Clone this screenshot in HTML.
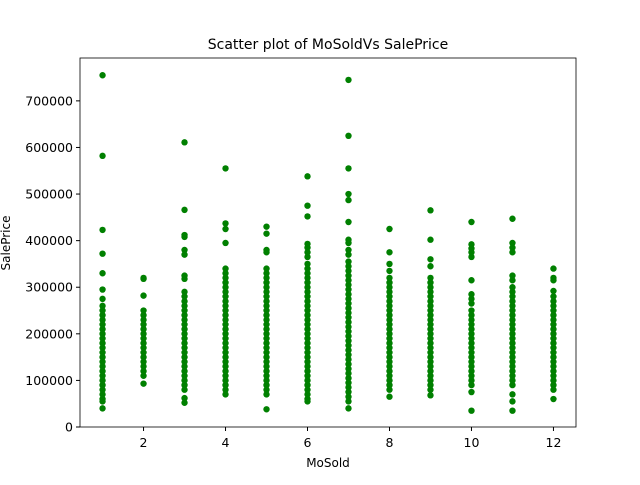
<!DOCTYPE html>
<html><head><meta charset="utf-8"><style>
body{margin:0;background:#fff}
svg text{font-family:"DejaVu Sans","Liberation Sans",sans-serif;fill:#000}
</style></head><body>
<svg id="chart" width="640" height="480">
<rect width="640" height="480" fill="#fff"/>
<text x="328" y="49" text-anchor="middle" font-size="14">Scatter plot of MoSoldVs SalePrice</text>
<g id="points"></g>
<g id="axes"></g>
<text x="328" y="467" text-anchor="middle" font-size="12">MoSold</text>
<text transform="translate(10,243) rotate(-90)" text-anchor="middle" font-size="12">SalePrice</text>
</svg>
<script>
const months=[1,2,3,4,5,6,7,8,9,10,11,12];
const xTicks=[2,4,6,8,10,12];
const yTicks=[0,100000,200000,300000,400000,500000,600000,700000];
const m1=[755000,582000,423000,372000,330000,295000,275000,260000,250000,240000,230000,220000,210000,200000,190000,180000,170000,160000,150000,140000,130000,120000,110000,100000,90000,80000,70000,60000,55000,40000];
const m2=[320000,318000,282000,250000,240000,230000,220000,210000,200000,190000,180000,170000,160000,150000,140000,130000,120000,110000,93000];
const m3=[611000,466000,412000,408000,380000,370000,325000,318000,290000,280000,270000,260000,250000,240000,230000,220000,210000,200000,190000,180000,170000,160000,150000,140000,130000,120000,110000,100000,90000,80000,62000,52000];
const m4=[555000,437000,425000,395000,340000,330000,320000,310000,300000,290000,280000,270000,260000,250000,240000,230000,220000,210000,200000,190000,180000,170000,160000,150000,140000,130000,120000,110000,100000,90000,80000,70000];
const m5=[430000,415000,380000,375000,340000,330000,320000,310000,300000,290000,280000,270000,260000,250000,240000,230000,220000,210000,200000,190000,180000,170000,160000,150000,140000,130000,120000,110000,100000,90000,80000,70000,38000];
const m6=[538000,475000,452000,393000,385000,375000,365000,350000,340000,330000,320000,310000,300000,290000,280000,270000,260000,250000,240000,230000,220000,210000,200000,190000,180000,170000,160000,150000,140000,130000,120000,110000,100000,90000,80000,70000,60000,55000];
const m7=[745000,625000,555000,500000,487000,440000,402000,395000,380000,370000,355000,345000,335000,325000,315000,305000,295000,285000,275000,265000,255000,245000,235000,225000,215000,205000,195000,185000,175000,165000,155000,145000,135000,125000,115000,105000,95000,85000,75000,65000,55000,40000];
const m8=[425000,375000,350000,335000,320000,310000,300000,290000,280000,270000,260000,250000,240000,230000,220000,210000,200000,190000,180000,170000,160000,150000,140000,130000,120000,110000,100000,90000,80000,65000];
const m9=[465000,402000,360000,345000,320000,310000,300000,290000,280000,270000,260000,250000,240000,230000,220000,210000,200000,190000,180000,170000,160000,150000,140000,130000,120000,110000,100000,90000,80000,68000];
const m10=[440000,392000,383000,375000,365000,315000,285000,275000,265000,250000,240000,230000,220000,210000,200000,190000,180000,170000,160000,150000,140000,130000,120000,110000,100000,90000,75000,35000];
const m11=[447000,395000,385000,375000,325000,315000,300000,290000,280000,270000,260000,250000,240000,230000,220000,210000,200000,190000,180000,170000,160000,150000,140000,130000,120000,110000,100000,90000,70000,55000,35000];
const m12=[340000,320000,315000,292000,280000,270000,260000,250000,240000,230000,220000,210000,200000,190000,180000,170000,160000,150000,140000,130000,120000,110000,100000,90000,80000,60000];
const prices=[m1,m2,m3,m4,m5,m6,m7,m8,m9,m10,m11,m12];
const L=80,R=576,T=58,B=427,xMin=0.45,xMax=12.55,yMin=0,yMax=792000;
const xs=v=>L+(v-xMin)/(xMax-xMin)*(R-L);
const ys=v=>B-(v-yMin)/(yMax-yMin)*(B-T);
const NS="http://www.w3.org/2000/svg";
const pg=document.getElementById('points');
months.forEach((m,i)=>{prices[i].forEach(p=>{
 const c=document.createElementNS(NS,'circle');
 c.setAttribute('cx',xs(m));c.setAttribute('cy',ys(p));c.setAttribute('r',3.2);c.setAttribute('fill','#008000');
 
 
 pg.appendChild(c);});});
const ag=document.getElementById('axes');
const fr=document.createElementNS(NS,'rect');
fr.setAttribute('x',L);fr.setAttribute('y',T);fr.setAttribute('width',R-L);fr.setAttribute('height',B-T);
fr.setAttribute('fill','none');fr.setAttribute('stroke','#000');fr.setAttribute('stroke-width','0.8');


ag.appendChild(fr);
xTicks.forEach(t=>{
 const l=document.createElementNS(NS,'line');
 l.setAttribute('x1',xs(t));l.setAttribute('x2',xs(t));l.setAttribute('y1',B);l.setAttribute('y2',B+4);l.setAttribute('stroke','#000');
 
 
 ag.appendChild(l);
 const tx=document.createElementNS(NS,'text');
 tx.setAttribute('x',xs(t));tx.setAttribute('y',B+20);tx.setAttribute('text-anchor','middle');tx.setAttribute('font-size','12.5');
 tx.textContent=t;
 
 
 ag.appendChild(tx);});
yTicks.forEach(t=>{
 const l=document.createElementNS(NS,'line');
 l.setAttribute('x1',L-4);l.setAttribute('x2',L);l.setAttribute('y1',ys(t));l.setAttribute('y2',ys(t));l.setAttribute('stroke','#000');
 
 
 ag.appendChild(l);
 const tx=document.createElementNS(NS,'text');
 tx.setAttribute('x',L-7);tx.setAttribute('y',ys(t)+4.5);tx.setAttribute('text-anchor','end');tx.setAttribute('font-size','12.5');
 tx.textContent=t;
 
 
 ag.appendChild(tx);});
</script>
</body></html>
